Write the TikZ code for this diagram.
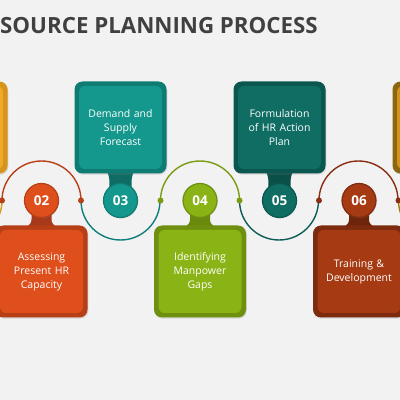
\documentclass[tikz,border=0pt]{standalone}
\usepackage{fontspec}
\setmainfont{Open Sans}
\usetikzlibrary{shadows}

\definecolor{pagebg}{HTML}{F2F2F2}
\definecolor{titlegray}{HTML}{404040}
\definecolor{oneLt}{HTML}{EFA92A}\definecolor{oneDk}{HTML}{D69418}\definecolor{oneArc}{HTML}{D99B22}
\definecolor{twoLt}{HTML}{DE4F1C}\definecolor{twoDk}{HTML}{B63F17}\definecolor{twoArc}{HTML}{B8411A}\definecolor{twoNeck}{HTML}{A8381A}
\definecolor{threeLt}{HTML}{14978C}\definecolor{threeDk}{HTML}{0F7C73}\definecolor{threeArc}{HTML}{12807A}\definecolor{threeNeck}{HTML}{0E6C64}
\definecolor{fourLt}{HTML}{8AB415}\definecolor{fourDk}{HTML}{6F8F10}\definecolor{fourArc}{HTML}{7A9B12}\definecolor{fourNeck}{HTML}{6A8A0E}
\definecolor{fiveLt}{HTML}{0F6D64}\definecolor{fiveDk}{HTML}{0B5750}\definecolor{fiveArc}{HTML}{0E5E57}\definecolor{fiveNeck}{HTML}{0A4F48}
\definecolor{sixLt}{HTML}{A63A12}\definecolor{sixDk}{HTML}{7C2B0E}\definecolor{sixArc}{HTML}{8A3012}\definecolor{sixNeck}{HTML}{6E250B}
\definecolor{sevenLt}{HTML}{D4931B}\definecolor{sevenDk}{HTML}{8C6710}\definecolor{sevenArc}{HTML}{A07E12}

\tikzset{
  outerbox/.style={rounded corners=8pt, minimum width=92pt, minimum height=92pt, inner sep=0pt,
    drop shadow={opacity=0.25, shadow xshift=0.8pt, shadow yshift=-1.2pt}},
  innerbox/.style={rounded corners=6pt, minimum width=83pt, minimum height=83pt, inner sep=0pt,
    text width=82pt, align=center, text=white, font=\fontsize{10.5}{14}\selectfont},
  stepnum/.style={circle, minimum size=34pt, inner sep=0pt, line width=1.2pt, text=white,
    font=\fontsize{13.5}{13.5}\selectfont\bfseries,
    drop shadow={opacity=0.3, shadow xshift=0.6pt, shadow yshift=-1pt}},
  link/.style={line width=1.4pt},
  joint/.style={circle, minimum size=6pt, inner sep=0pt}
}

\begin{document}
\begin{tikzpicture}[x=1pt,y=1pt]
  \fill[pagebg] (0,0) rectangle (400,400);
  \useasboundingbox (0,0) rectangle (400,400);

  \node[anchor=base west, inner sep=0pt, text=titlegray, font=\fontsize{22.3}{22.3}\selectfont\bfseries]
    (title) at (0,366.7) {SOURCE PLANNING PROCESS};

  % joints between the steps
  \coordinate (j12) at (2,199.5);
  \coordinate (j23) at (81,199.5);
  \coordinate (j34) at (160.5,199.5);
  \coordinate (j45) at (239.5,199.5);
  \coordinate (j56) at (319,199.5);
  \coordinate (j67) at (398.5,199.5);

  % arcs
  \draw[link, oneArc] (j12) arc[start angle=0, end angle=-180, radius=39.5];
  \draw[link, twoArc] (j12) arc[start angle=180, end angle=0, radius=39.5];
  \draw[link, threeArc] (j23) arc[start angle=180, end angle=360, radius=39.5];
  \draw[link, fourArc] (j34) arc[start angle=180, end angle=0, radius=39.5];
  \draw[link, fiveArc] (j45) arc[start angle=180, end angle=360, radius=39.5];
  \draw[link, sixArc] (j56) arc[start angle=180, end angle=0, radius=39.5];
  \draw[link, sevenArc] (j67) arc[start angle=180, end angle=360, radius=39.5];

  \node[joint, fill=twoArc] (p12) at (j12) {};
  \node[joint, fill=twoArc] (p23) at (j23) {};
  \node[joint, fill=fourArc] (p34) at (j34) {};
  \node[joint, fill=fourArc] (p45) at (j45) {};
  \node[joint, fill=sixArc] (p56) at (j56) {};
  \node[joint, fill=sixArc] (p67) at (j67) {};

  % necks
  \fill[threeNeck] (107.5,228) -- (133.5,228) .. controls (131,222) and (131,214) .. (133,205)
    -- (108,205) .. controls (110,214) and (110,222) .. cycle;
  \fill[fiveNeck] (266.5,228) -- (292.5,228) .. controls (290,222) and (290,214) .. (292,205)
    -- (267,205) .. controls (269,214) and (269,222) .. cycle;
  \fill[twoNeck] (31.5,199.5) -- (31.5,181) .. controls (31.5,177) and (30,176) .. (28,174)
    -- (55,174) .. controls (53,176) and (51.5,177) .. (51.5,181) -- (51.5,199.5) -- cycle;
  \fill[fourNeck] (190,199.5) -- (190,181) .. controls (190,177) and (188.5,176) .. (186.5,174)
    -- (213.5,174) .. controls (211.5,176) and (210,177) .. (210,181) -- (210,199.5) -- cycle;
  \fill[sixNeck] (349,199.5) -- (349,181) .. controls (349,177) and (347.5,176) .. (345.5,174)
    -- (372.5,174) .. controls (370.5,176) and (369,177) .. (369,181) -- (369,199.5) -- cycle;

  % number circles
  \node[stepnum, fill=twoLt, draw=twoDk] (n2) at (41.5,199.5) {02};
  \node[stepnum, fill=threeLt, draw=threeDk] (n3) at (120.5,199.5) {03};
  \node[stepnum, fill=fourLt, draw=fourDk] (n4) at (200,199.5) {04};
  \node[stepnum, fill=fiveLt, draw=fiveDk] (n5) at (279.5,199.5) {05};
  \node[stepnum, fill=sixLt, draw=sixDk] (n6) at (359,199.5) {06};

  % boxes
  \node[outerbox, fill=oneDk] (b1) at (-38.5,272.5) {};
  \node[innerbox, fill=oneLt] (t1) at (b1) {};
  \node[outerbox, fill=twoDk] (b2) at (41.5,128.5) {};
  \node[innerbox, fill=twoLt] (t2) at (b2) {Assessing\\Present HR\\Capacity};
  \node[outerbox, fill=threeDk] (b3) at (120.5,272.5) {};
  \node[innerbox, fill=threeLt] (t3) at (b3) {Demand and\\Supply\\Forecast};
  \node[outerbox, fill=fourDk] (b4) at (200,128.5) {};
  \node[innerbox, fill=fourLt] (t4) at (b4) {Identifying\\Manpower\\Gaps};
  \node[outerbox, fill=fiveDk] (b5) at (279.5,272.5) {};
  \node[innerbox, fill=fiveLt] (t5) at (b5) {Formulation\\of HR Action\\Plan};
  \node[outerbox, fill=sixDk] (b6) at (359,128.5) {};
  \node[innerbox, fill=sixLt] (t6) at (b6) {Training \&\\Development};
  \node[outerbox, fill=sevenDk] (b7) at (438.5,272.5) {};
  \node[innerbox, fill=sevenLt] (t7) at (b7) {};
\end{tikzpicture}
\end{document}
